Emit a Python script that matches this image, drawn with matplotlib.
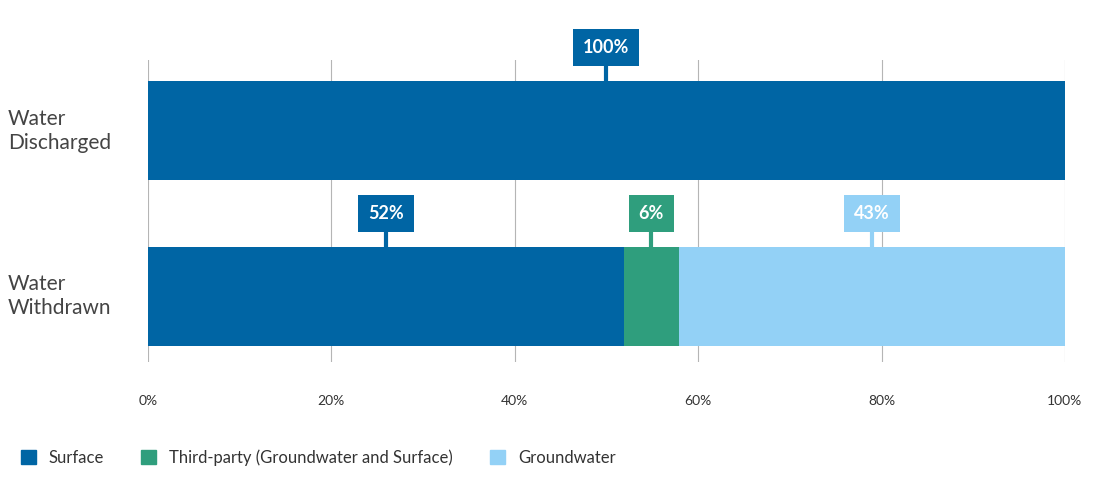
import matplotlib.pyplot as plt
from matplotlib.patches import Patch
from matplotlib.transforms import blended_transform_factory

plt.rcParams['font.family'] = ['Lato', 'DejaVu Sans']

rows = ["Water\nWithdrawn", "Water\nDischarged"]
series = ["Surface", "Third-party (Groundwater and Surface)", "Groundwater"]
colors = ["#0065a4", "#2f9e7d", "#93d1f6"]
# share of each source per row (%)
values = {
    "Surface": [51.9, 100.0],
    "Third-party (Groundwater and Surface)": [6.0, 0.0],
    "Groundwater": [42.1, 0.0],
}
labels = {
    "Surface": ["52%", "100%"],
    "Third-party (Groundwater and Surface)": ["6%", None],
    "Groundwater": ["43%", None],
}

fig = plt.figure(figsize=(11.03, 4.98), dpi=100)
ax = fig.add_axes([0.134, 0.273, 0.8315, 0.6065])
h = 0.596
ypos = [0, 1]

left = [0.0, 0.0]
for s, c in zip(series, colors):
    v = values[s]
    ax.barh(ypos, v, left=left, height=h, color=c, zorder=2)
    for i, y in enumerate(ypos):
        lab = labels[s][i]
        if lab and v[i] > 0:
            xm = left[i] + v[i] / 2
            top = y + h / 2
            ax.plot([xm, xm], [top, top + 0.09], color=c, lw=3, zorder=3,
                    solid_capstyle='butt')
            ax.text(xm, top + 0.2, lab, ha='center', va='center', color='white',
                    fontsize=13, fontweight='bold', zorder=4,
                    bbox=dict(boxstyle='square,pad=0.55', fc=c, ec='none'))
    left = [a + b for a, b in zip(left, v)]

ax.set_xlim(0, 100)
ax.set_ylim(-0.395, 1.425)
ax.set_xticks(range(0, 101, 20))
ax.set_xticklabels([f"{t}%" for t in range(0, 101, 20)], fontsize=10, color='#333333')
ax.set_yticks([])
ax.tick_params(axis='x', length=0, pad=24)
ax.grid(axis='x', color='#b5b5b5', lw=0.8, zorder=0)
for sp in ax.spines.values():
    sp.set_visible(False)

tr = blended_transform_factory(fig.transFigure, ax.transData)
for y, name in zip(ypos, rows):
    ax.text(0.007, y, name, transform=tr, ha='left', va='center', fontsize=15,
            color='#444444', linespacing=1.25)

handles = [Patch(color=c, label=s) for s, c in zip(series, colors)]
fig.legend(handles=handles, loc='lower left', bbox_to_anchor=(0.005, 0.035), ncol=3,
           frameon=False, fontsize=12, handlelength=0.9, handleheight=0.9,
           handletextpad=0.8, columnspacing=2.2, labelcolor='#333333')

fig.savefig("out.png", dpi=100)
